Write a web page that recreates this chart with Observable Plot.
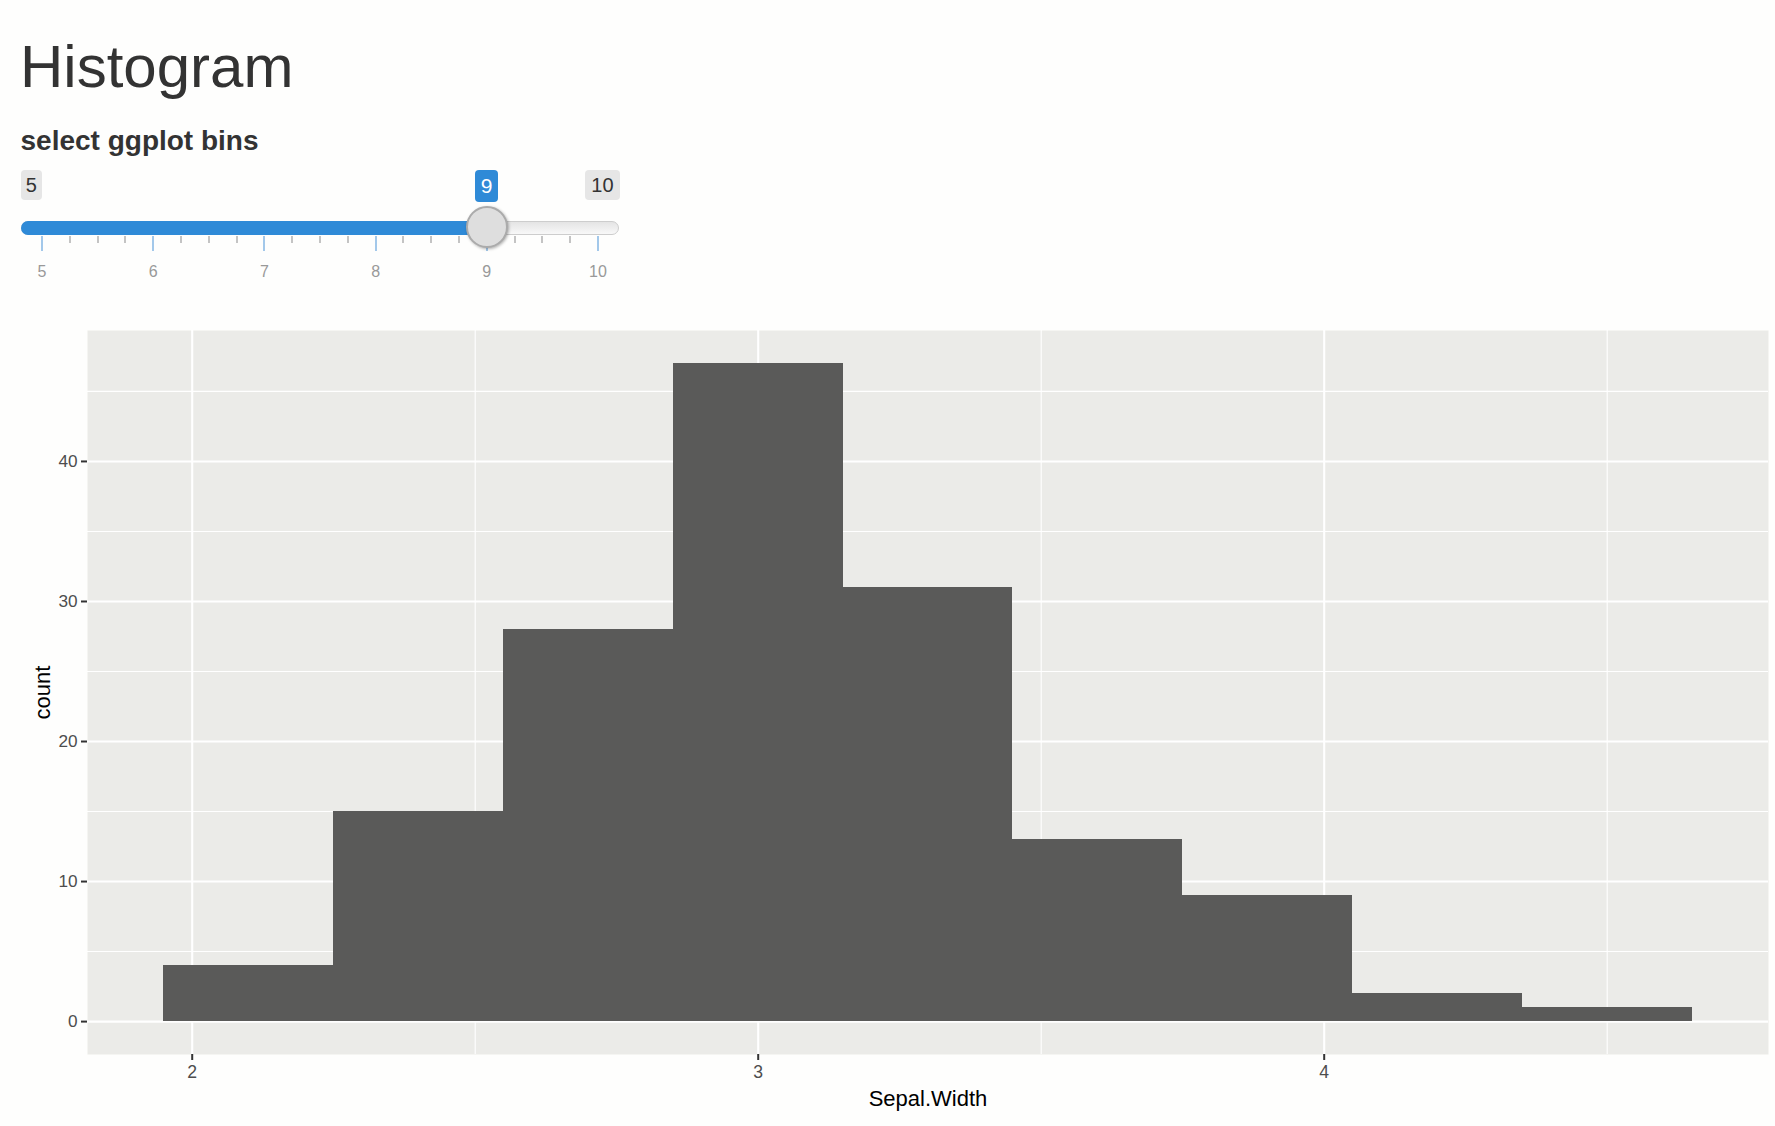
<!DOCTYPE html>
<html><head><meta charset="utf-8">
<script src="https://cdn.jsdelivr.net/npm/d3@7"></script>
<script src="https://cdn.jsdelivr.net/npm/@observablehq/plot@0.6"></script>
<style>
html,body{margin:0;padding:0;background:#fefefd;}
body{width:1775px;height:1126px;position:relative;overflow:hidden;font-family:"Liberation Sans",Arial,Helvetica,sans-serif;}
#title{position:absolute;left:20px;top:37px;font-size:60px;line-height:60px;color:#333;white-space:nowrap;}
#label{position:absolute;left:20.5px;top:126.5px;font-size:28px;line-height:28px;font-weight:bold;color:#333;white-space:nowrap;}
#slider{position:absolute;left:0;top:0;width:700px;height:300px;}
#chart{position:absolute;left:0;top:300px;}
</style></head><body>
<div id="title">Histogram</div>
<div id="label">select ggplot bins</div>
<div id="slider"></div>
<div id="chart"></div>
<script>
// ---- data ----
const binStarts = [1.95, 2.25, 2.55, 2.85, 3.15, 3.45, 3.75, 4.05, 4.35];
const binEnds   = [2.25, 2.55, 2.85, 3.15, 3.45, 3.75, 4.05, 4.35, 4.65];
const counts    = [4, 15, 28, 47, 31, 13, 9, 2, 1];
const xTicks = [2, 3, 4];
const xMinor = [2.5, 3.5, 4.5];
const yTicks = [0, 10, 20, 30, 40];
const yMinor = [5, 15, 25, 35, 45];
const sliderMin = 5, sliderMax = 10, sliderValue = 9;
const sliderTicks = [5, 6, 7, 8, 9, 10];
const sliderMinorStep = 0.25;

// ---- slider ----
const slider = document.getElementById('slider');
function el(css, text) {
  const d = document.createElement('div');
  d.style.cssText = 'position:absolute;box-sizing:border-box;' + css;
  if (text != null) d.textContent = text;
  slider.appendChild(d);
  return d;
}
const sx = d3.scaleLinear().domain([sliderMin, sliderMax]).range([42, 598]);
const R = 21.3;
const trackL = sx(sliderMin) - R, trackR = sx(sliderMax) + R;
el(`left:${trackL}px;top:221px;width:${trackR - trackL}px;height:14px;border:1.5px solid #cdcdcd;border-radius:7px;background:linear-gradient(#e4e4e4,#f8f8f8);`);
el(`left:${trackL}px;top:221px;width:${sx(sliderValue) - trackL}px;height:14px;border-radius:7px 0 0 7px;background:#2f8ad7;`);
const minor = d3.range(sliderMin, sliderMax + 1e-9, sliderMinorStep).filter(v => !sliderTicks.includes(v));
minor.forEach(v => el(`left:${sx(v) - 1}px;top:236px;width:2px;height:7px;background:#c4c4c4;`));
sliderTicks.forEach(v => {
  el(`left:${sx(v) - 1}px;top:236px;width:2px;height:15px;background:#a3c8ea;`);
  el(`left:${sx(v)}px;top:263.5px;transform:translateX(-50%);font-size:16px;line-height:16px;color:#999;white-space:nowrap;`, String(v));
});
el(`left:${trackL}px;top:170px;height:30px;padding:0 5px;border-radius:4px;background:#e6e6e6;color:#333;font-size:20px;line-height:30px;`, String(sliderMin));
const maxBox = el(`top:170px;height:30px;padding:0 6px;border-radius:4px;background:#e6e6e6;color:#333;font-size:20px;line-height:30px;`, String(sliderMax));
maxBox.style.left = (trackR - maxBox.offsetWidth) + 'px';
const valBox = el(`top:170px;height:32px;padding:0 6px;border-radius:4px;background:#2f8ad7;color:#fff;font-size:21px;line-height:32px;white-space:nowrap;`, String(sliderValue));
valBox.style.left = (sx(sliderValue) - valBox.offsetWidth / 2) + 'px';
el(`left:${sx(sliderValue) - 21}px;top:205.5px;width:42px;height:42px;border-radius:50%;background:#dedede;border:2px solid #ababab;box-shadow:1px 1px 3px rgba(0,0,0,0.3);`);

// ---- histogram ----
const bins = counts.map((c, i) => ({x1: binStarts[i], x2: binEnds[i], count: c}));
const font = '"Liberation Sans", Arial, Helvetica, sans-serif';
const chart = Plot.plot({
  width: 1775, height: 820,
  marginLeft: 87, marginRight: 7, marginTop: 30, marginBottom: 66,
  x: {domain: [1.815, 4.785]},
  y: {domain: [-2.35, 49.35]},
  style: {background: "transparent", fontFamily: font, overflow: "visible"},
  marks: [
    Plot.frame({fill: "#ebebe8", stroke: "none"}),
    Plot.ruleY(yMinor, {stroke: "#ffffff", strokeWidth: 1.1}),
    Plot.ruleX(xMinor, {stroke: "#ffffff", strokeWidth: 1.1}),
    Plot.ruleY(yTicks, {stroke: "#ffffff", strokeWidth: 2.1}),
    Plot.ruleX(xTicks, {stroke: "#ffffff", strokeWidth: 2.1}),
    Plot.rectY(bins, {x1: "x1", x2: "x2", y1: 0, y2: "count", fill: "#5a5a59", inset: 0, shapeRendering: "crispEdges"}),
    Plot.axisX(xTicks, {tickSize: 6, tickPadding: 5, fontSize: 17.6, stroke: "#333333", fill: "#4d4d4d", strokeWidth: 2, label: null, tickFormat: d => String(d)}),
    Plot.axisY(yTicks, {tickSize: 6, tickPadding: 4, fontSize: 17.2, stroke: "#333333", fill: "#4d4d4d", strokeWidth: 2, label: null, tickFormat: d => String(d)}),
    Plot.text(["count"], {frameAnchor: "left", dx: -44.5, rotate: -90, textAnchor: "middle", fontSize: 22, fill: "#000000"}),
    Plot.text(["Sepal.Width"], {frameAnchor: "bottom", dy: 51, lineAnchor: "bottom", textAnchor: "middle", fontSize: 22, fill: "#000000"})
  ]
});
document.getElementById('chart').appendChild(chart);
</script>
</body></html>
